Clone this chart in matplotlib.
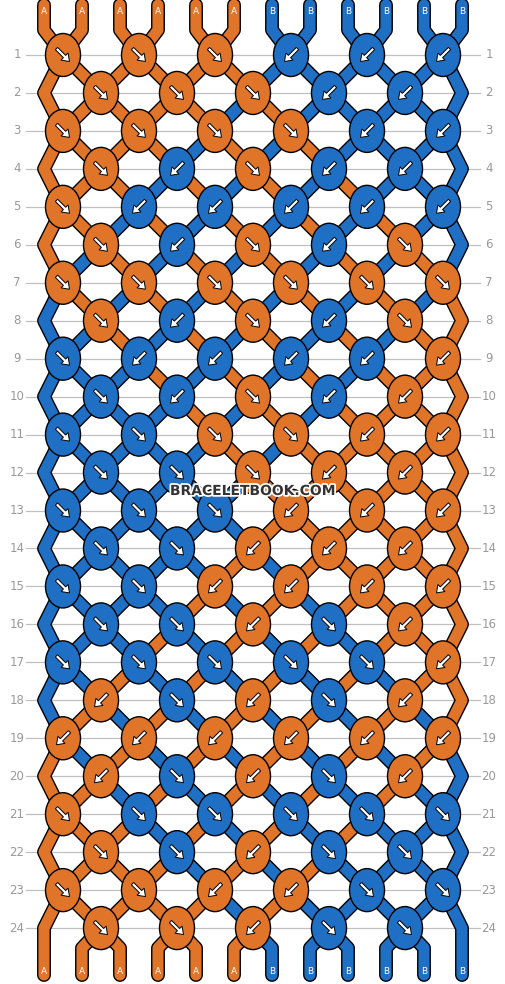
import matplotlib
matplotlib.use('Agg')
import matplotlib.pyplot as plt
from matplotlib.patches import Ellipse
import matplotlib.patheffects as pe

# string colours (top labels) and knot directions per row: f = ↘, b = ↙
strings = ['A'] * 6 + ['B'] * 6
colors = {'A': '#e07428', 'B': '#1f70c4'}
rows = [
    'fffbbb', 'fffbb', 'ffffbb', 'fbfbb', 'fbbbbb', 'fbfbf',
    'ffffff', 'fbfbf', 'fbbbbb', 'fbfbb', 'ffffbb', 'fffbb',
    'fffbbb', 'ffbbb', 'ffbbbb', 'ffbfb', 'fffffb', 'bfbfb',
    'bbbbbb', 'bfbfb', 'ffffff', 'ffbff', 'ffbbff', 'ffbff',
]

fig = plt.figure(figsize=(5.06, 9.84), dpi=100)
ax = fig.add_axes([0, 0, 1, 1])
ax.set_xlim(0, 506)
ax.set_ylim(984, 0)
ax.axis('off')

def row_y(r):
    return 55 + r * 37.96

n = len(strings)
# grid lines and row labels
for r in range(len(rows)):
    y = row_y(r)
    ax.plot([26, 480], [y, y], color='#c0c0c0', lw=0.9, zorder=0)
    ax.text(17, y, str(r + 1), ha='center', va='center', color='#999999', fontsize=8.5)
    ax.text(489, y, str(r + 1), ha='center', va='center', color='#999999', fontsize=8.5)

# follow the threads through the knots
order = list(range(n))
paths = {i: [(44 + 38 * i, 5), (44 + 38 * i, 30)] for i in range(n)}
knots = []
for r, row in enumerate(rows):
    y = row_y(r)
    start = 0 if r % 2 == 0 else 1
    if start == 1:
        paths[order[0]].append((44, y))
        paths[order[-1]].append((462, y))
    for k, d in enumerate(row):
        p = start + 2 * k
        x = 63 + 76 * k + (38 if start else 0)
        a, b = order[p], order[p + 1]
        paths[a].append((x, y))
        paths[b].append((x, y))
        shown = a if d == 'f' else b
        knots.append((x, y, colors[strings[shown]], d))
        order[p], order[p + 1] = b, a

for p, t in enumerate(order):
    xe = 44 + 38 * p
    if p in (0, n - 1):
        paths[t].append((xe, 975))
    else:
        paths[t].append((xe, 948))
        paths[t].append((xe, 975))

for t in range(n):
    xs, ys = zip(*paths[t])
    ax.plot(xs, ys, color='black', lw=10, solid_capstyle='round', solid_joinstyle='round', zorder=1)
for t in range(n):
    xs, ys = zip(*paths[t])
    ax.plot(xs, ys, color=colors[strings[t]], lw=8, solid_capstyle='round', solid_joinstyle='round', zorder=2)

for i, s in enumerate(strings):
    ax.text(44 + 38 * i, 12, s, color='white', ha='center', va='center', fontsize=6.5, zorder=3)
for p, t in enumerate(order):
    ax.text(44 + 38 * p, 971, strings[t], color='white', ha='center', va='center', fontsize=6.5, zorder=3)

for x, y, c, d in knots:
    ax.add_patch(Ellipse((x, y), 35, 43, facecolor=c, edgecolor='black', lw=1, zorder=4))
    sx = -1 if d == 'f' else 1
    ax.arrow(x + 6.5 * sx, y - 6.5, -13 * sx, 13, width=3.2, head_width=10, head_length=7,
             length_includes_head=True, facecolor='white', edgecolor='black', lw=0.7, zorder=5)

ax.text(253, 491, 'BRACELETBOOK.COM', ha='center', va='center', fontsize=10, fontweight='bold',
        color='#333333', zorder=6, path_effects=[pe.withStroke(linewidth=2.5, foreground='white')])

fig.savefig('out.png', dpi=100)
